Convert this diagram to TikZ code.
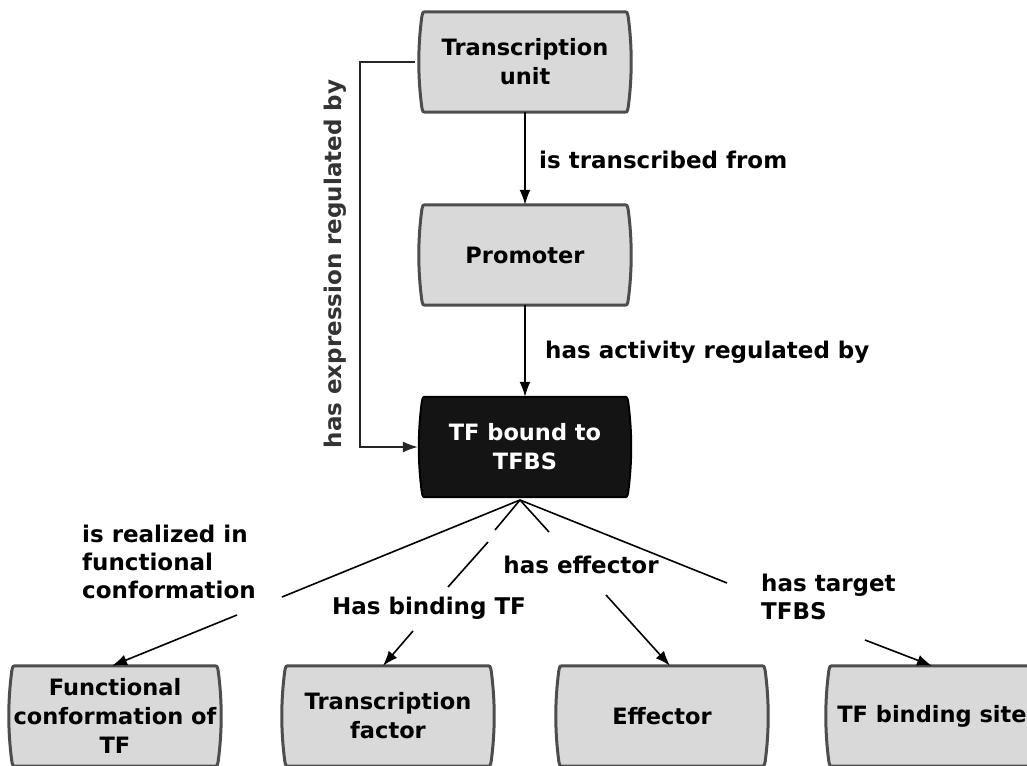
\documentclass[tikz,border=0pt]{standalone}
\usepackage{fontspec}
\setmainfont{DejaVu Sans}
\usetikzlibrary{arrows.meta,backgrounds}
\definecolor{boxfill}{HTML}{D9D9D9}
\definecolor{boxline}{HTML}{4D4D4D}
\definecolor{tffill}{HTML}{141414}
\newcommand\barrelshape[2]{%
  \path[#2] ([xshift=5pt]#1.north west) -- ([xshift=-5pt]#1.north east)
  .. controls ([xshift=-1pt]#1.north east) .. ([yshift=-5pt]#1.north east)
  .. controls ([xshift=4pt,yshift=-35pt]#1.north east) and ([xshift=4pt,yshift=35pt]#1.south east) .. ([yshift=5pt]#1.south east)
  .. controls ([xshift=-1pt]#1.south east) .. ([xshift=-5pt]#1.south east)
  -- ([xshift=5pt]#1.south west)
  .. controls ([xshift=1pt]#1.south west) .. ([yshift=5pt]#1.south west)
  .. controls ([xshift=-4pt,yshift=35pt]#1.south west) and ([xshift=-4pt,yshift=-35pt]#1.north west) .. ([yshift=-5pt]#1.north west)
  .. controls ([xshift=1pt]#1.north west) .. cycle;}
\tikzset{
  box/.style={rectangle, minimum width=206pt, minimum height=100pt, inner sep=0pt,
    align=center, font=\fontsize{22.5}{29}\selectfont\bfseries},
  greyshape/.style={fill=boxfill, draw=boxline, line width=3pt},
  darkshape/.style={fill=tffill, draw=black, line width=2pt},
  lbl/.style={inner sep=0pt, font=\fontsize{23}{27.8}\selectfont\bfseries},
  conn/.style={line width=1.6pt, draw=black},
  arr/.style={conn, -{Latex[length=15pt,width=11pt]}}
}
\begin{document}
\begin{tikzpicture}[x=1pt,y=-1pt]
\useasboundingbox (0,0) rectangle (1027,765);
% boxes
\node[box] (tu) at (525,62) {Transcription\\unit};
\node[box] (pr) at (525,255) {Promoter};
\node[box, text=white] (tf) at (525,447) {TF bound to\\TFBS};
\node[box] (b1) at (115,716) {Functional\\conformation of\\TF};
\node[box] (b2) at (388,716) {Transcription\\factor};
\node[box] (b3) at (662,716) {Effector};
\node[box] (b4) at (932,716) {TF binding site};
\begin{scope}[on background layer]
  \barrelshape{tu}{greyshape}
  \barrelshape{pr}{greyshape}
  \barrelshape{tf}{darkshape}
  \barrelshape{b1}{greyshape}
  \barrelshape{b2}{greyshape}
  \barrelshape{b3}{greyshape}
  \barrelshape{b4}{greyshape}
\end{scope}
% vertical arrows
\draw[arr] (tu) -- (pr);
\draw[arr] (pr) -- (tf);
% elbow connector
\coordinate (e0) at (415,62);
\coordinate (e1) at (360,62);
\draw[arr, line width=1.3pt, draw=black!85, shorten >=4pt] (e0) -- (e1) |- (tf.west);
% fan
\coordinate (fan) at (520,500);
\coordinate (l1a) at (282,597);
\coordinate (l1b) at (237,615);
\coordinate (l2a) at (495,530);
\coordinate (l2b) at (488,542);
\coordinate (l2c) at (448,587);
\coordinate (l2d) at (413,631);
\coordinate (l3a) at (549,532);
\coordinate (l3b) at (606,595);
\coordinate (l4a) at (727,583);
\coordinate (l4b) at (865,640);
\draw[conn] (fan) -- (l1a);
\draw[arr] (l1b) -- ([xshift=-3pt]b1.north);
\draw[conn] (fan) -- (l2a);
\draw[conn] (l2b) -- (l2c);
\draw[arr] (l2d) -- ([xshift=-5pt]b2.north);
\draw[conn] (fan) -- (l3a);
\draw[arr] (l3b) -- ([xshift=8pt]b3.north);
\draw[conn] (fan) -- (l4a);
\draw[arr] (l4b) -- (b4.north);
% labels
\node[lbl, anchor=west] (t1) at (539,160) {is transcribed from};
\node[lbl, anchor=west] (t2) at (545,352) {has activity regulated by};
\node[lbl, rotate=90, text=black!80] (t3) at (335,264) {has expression regulated by};
\node[lbl, anchor=west, align=left] (t4) at (82,562) {is realized in\\functional\\conformation};
\node[lbl] (t5) at (429,608) {Has binding TF};
\node[lbl] (t6) at (581,565) {has effector};
\node[lbl, anchor=west, align=left] (t7) at (761,597) {has target\\TFBS};
\end{tikzpicture}
\end{document}
